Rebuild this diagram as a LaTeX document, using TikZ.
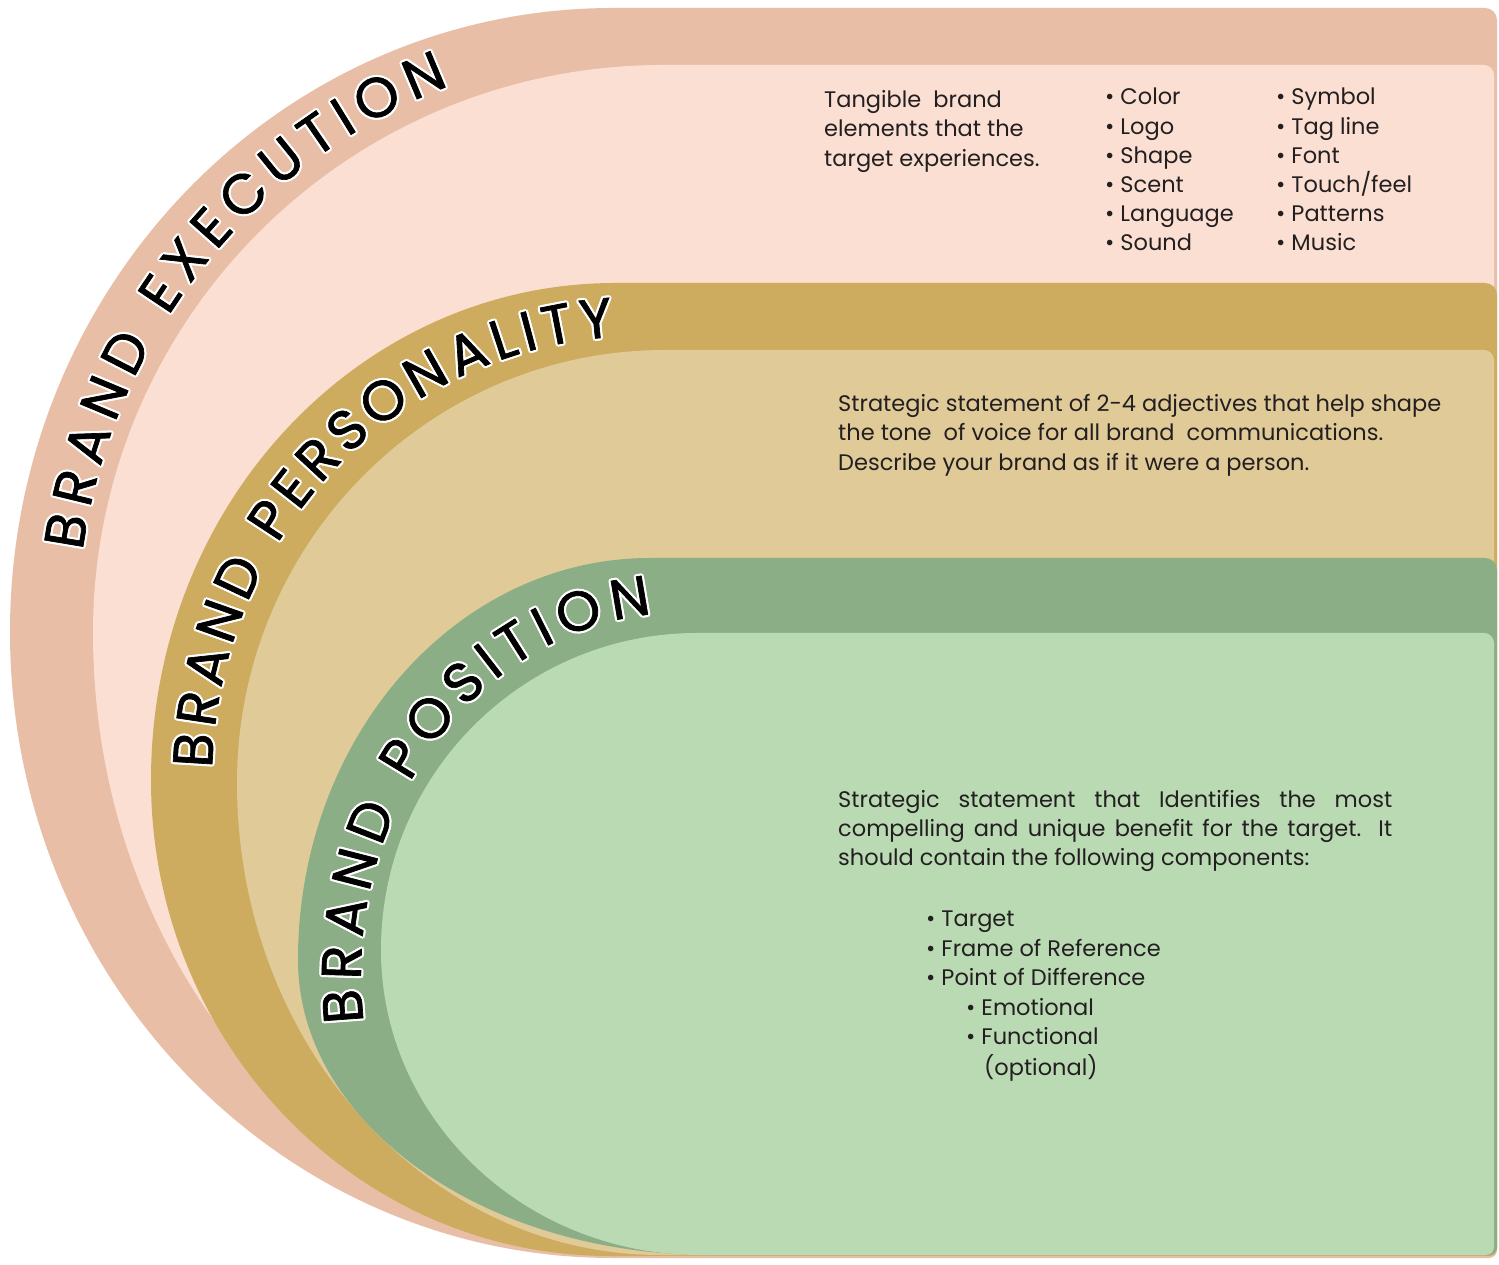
\documentclass[tikz,border=0pt]{standalone}
\usepackage{fontspec}
\setmainfont{Poppins}
\usetikzlibrary{decorations.text}
\newfontfamily\curvefam[FakeBold=1.2]{Poppins}
\newcommand\curvefont{\fontsize{56}{64}\selectfont\curvefam}
\newcommand\bodyfont{\fontsize{22.5}{29}\selectfont}
\definecolor{execD}{HTML}{E9BEA7}
\definecolor{execL}{HTML}{FBDFD2}
\definecolor{persD}{HTML}{CEAC5F}
\definecolor{persL}{HTML}{DFCA98}
\definecolor{posD}{HTML}{8CAE86}
\definecolor{posL}{HTML}{BADAB4}
\definecolor{txtcol}{HTML}{231F20}
% 1 colour, 2 top y, 3 x where top starts, 4 leftmost x, 5 y of leftmost, 6 x where bottom starts, 7 bottom y, 8 right x, 9 top-right radius  (image coordinates, y down)
\newcommand\layer[9]{%
  \fill[#1] (#3,{1264-#2})
    arc[start angle=90,end angle=180,x radius={#3-#4},y radius={#5-#2}]
    arc[start angle=180,end angle=270,x radius={#6-#4},y radius={#7-#5}]
    -- ({#8-8},{1264-#7}) arc[start angle=270,end angle=360,radius=8]
    -- (#8,{1264-#2-#9}) arc[start angle=0,end angle=90,radius=#9] -- cycle;
}
% 1 cx, 2 cy (y up), 3 rx, 4 ry, 5 start angle, 6 end angle, 7 text
\newcommand\arclabel[7]{%
  \foreach \dx/\dy in {2.2/0,-2.2/0,0/2.2,0/-2.2,1.6/1.6,-1.6/1.6,1.6/-1.6,-1.6/-1.6}{
    \path[shift={(\dx,\dy)},decorate,decoration={text along path,text align={fit to path},
      text={|\curvefont\color{white}|#7}}]
      ([shift={(#1,#2)}]#5:#3 and #4) arc[start angle=#5,end angle=#6,x radius=#3,y radius=#4];
  }
  \path[decorate,decoration={text along path,text align={fit to path},
      text={|\curvefont\color{black}|#7}}]
      ([shift={(#1,#2)}]#5:#3 and #4) arc[start angle=#5,end angle=#6,x radius=#3,y radius=#4];
}
\begin{document}
\begin{tikzpicture}[x=1pt,y=1pt,
  txt/.style={anchor=base west,inner sep=0pt,font=\bodyfont,text=txtcol}]
\useasboundingbox (0,0) rectangle (1499,1264);
\fill[white] (0,0) rectangle (1499,1264);
% layers
\layer{execD}{8}{613}{10}{632}{613}{1258}{1497}{12}
\layer{execL}{65}{663}{93}{633}{650}{1256}{1494}{10}
\layer{persD}{283}{615}{151}{780}{610}{1256}{1497}{12}
\layer{persL}{350}{665}{237}{783}{660}{1255}{1494}{10}
\layer{posD}{558}{650}{298}{960}{710}{1255}{1497}{12}
\layer{posL}{633}{697}{381}{950}{700}{1255}{1494}{10}
% curved labels
\arclabel{650}{632}{573}{583}{172}{110.5}{BRAND EXECUTION}
\arclabel{640}{484}{428}{444}{178.5}{93.5}{BRAND PERSONALITY}
\arclabel{680}{289}{319}{362}{187.5}{95}{BRAND POSITION}
% execution text
\node[txt] (ed1) at (824,{1264-108}) {Tangible\ \ brand};
\node[txt] (ed2) at (824,{1264-137}) {elements that the};
\node[txt] (ed3) at (824,{1264-167}) {target experiences.};
\foreach \t [count=\i] in {Color,Logo,Shape,Scent,Language,Sound}
  \node[txt] (ca\i) at (1105,{1264-105-29.2*(\i-1)}) {\textbullet\ \t};
\foreach \t [count=\i] in {Symbol,Tag line,Font,Touch/feel,Patterns,Music}
  \node[txt] (cb\i) at (1276,{1264-105-29.2*(\i-1)}) {\textbullet\ \t};
% personality text
\node[txt] (pd1) at (838,{1264-412}) {Strategic statement of 2-4 adjectives that help shape};
\node[txt] (pd2) at (838,{1264-441}) {the tone\ \ of voice for all brand\ \ communications.};
\node[txt] (pd3) at (838,{1264-471}) {Describe your brand as if it were a person.};
% position text
\node[txt] (sd1) at (838,{1264-808}) {\makebox[554pt][s]{Strategic statement that Identifies the most}};
\node[txt] (sd2) at (838,{1264-837}) {\makebox[554pt][s]{compelling and unique benefit for the target. It}};
\node[txt] (sd3) at (838,{1264-866}) {should contain the following components:};
\node[txt] (sb1) at (926,{1264-927}) {\textbullet\ Target};
\node[txt] (sb2) at (926,{1264-957}) {\textbullet\ Frame of Reference};
\node[txt] (sb3) at (926,{1264-986}) {\textbullet\ Point of Difference};
\node[txt] (sb4) at (966,{1264-1016}) {\textbullet\ Emotional};
\node[txt] (sb5) at (966,{1264-1045}) {\textbullet\ Functional};
\node[txt] (sb6) at (984,{1264-1075}) {(optional)};
\end{tikzpicture}
\end{document}
